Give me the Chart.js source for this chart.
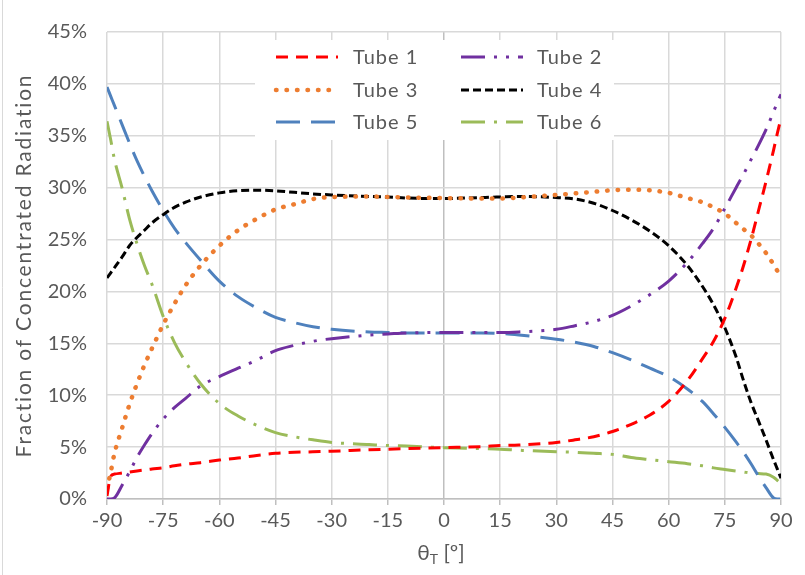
<!DOCTYPE html>
<html>
<head>
<meta charset="utf-8">
<script src="https://cdn.jsdelivr.net/npm/chart.js@4.4.1/dist/chart.umd.min.js"></script>
<style>
  html, body { margin: 0; padding: 0; background: #fff; }
  #wrap { width: 805px; height: 575px; }
</style>
</head>
<body>
<div id="wrap"><canvas id="fracChart" width="805" height="575"></canvas></div>
<script>
// incidence angle (deg) and fraction of radiation (%) per tube
const angles = [-90, -89, -88, -86, -84, -82, -80, -78, -75, -72,
                -69, -65, -60, -55, -50, -45, -40, -35, -30, -20,
                -15, -10, 0, 10, 15, 20, 30, 35, 40, 45,
                50, 55, 60, 65, 69, 72, 75, 78, 80, 82,
                84, 86, 88, 89, 90];

const tube1 = [0.3, 2.2, 2.4, 2.5, 2.6, 2.7, 2.8, 2.9, 3.0, 3.2,
               3.35, 3.5, 3.75, 3.95, 4.2, 4.4, 4.5, 4.55, 4.6, 4.75,
               4.8, 4.85, 4.95, 5.05, 5.15, 5.2, 5.45, 5.7, 6.0, 6.5,
               7.2, 8.1, 9.4, 11.4, 13.5, 15.2, 17.4, 20.3, 22.5, 25.0,
               27.8, 30.6, 33.6, 35.2, 36.7];
const tube2 = [0, 0, 0.1, 1.3, 2.6, 4.0, 5.2, 6.3, 7.7, 8.8,
               9.7, 10.9, 11.8, 12.6, 13.4, 14.3, 14.8, 15.2, 15.45, 15.8,
               15.9, 16.0, 16.05, 16.05, 16.05, 16.1, 16.35, 16.7, 17.1, 17.7,
               18.6, 19.7, 21.0, 22.8, 24.6, 26.1, 28.0, 30.0, 31.3, 32.7,
               34.1, 35.6, 37.3, 38.2, 39.0];
const tube3 = [1.0, 2.6, 4.4, 6.8, 9.1, 11.1, 12.9, 14.5, 16.8, 18.8,
               20.6, 22.5, 24.4, 25.9, 27.0, 27.9, 28.4, 28.9, 29.1, 29.15,
               29.1, 29.05, 29.0, 28.95, 28.95, 29.05, 29.3, 29.45, 29.6, 29.75,
               29.8, 29.75, 29.5, 29.0, 28.6, 28.1, 27.5, 26.6, 26.0, 25.4,
               24.6, 23.7, 22.6, 22.0, 21.5];
const tube4 = [21.3, 21.8, 22.3, 23.3, 24.4, 25.2, 25.9, 26.6, 27.4, 28.1,
               28.6, 29.1, 29.5, 29.7, 29.75, 29.7, 29.55, 29.4, 29.3, 29.15,
               29.1, 29.0, 28.95, 29.05, 29.1, 29.15, 29.05, 28.9, 28.5, 27.8,
               26.9, 25.8, 24.4, 22.5, 20.5, 18.7, 16.5, 13.7, 11.4, 9.3,
               7.5, 5.7, 3.8, 2.9, 2.0];
const tube5 = [39.7, 38.8, 37.9, 36.1, 34.3, 32.6, 31.1, 29.7, 27.8, 26.1,
               24.7, 23.0, 21.0, 19.5, 18.4, 17.5, 17.0, 16.6, 16.35, 16.1,
               16.05, 16.0, 16.0, 16.0, 15.95, 15.8, 15.4, 15.1, 14.7, 14.1,
               13.4, 12.6, 11.8, 10.6, 9.4, 8.2, 6.9, 5.5, 4.5, 3.4,
               2.2, 1.1, 0.1, 0, 0];
const tube6 = [36.4, 34.6, 32.7, 30.0, 27.0, 24.6, 22.5, 20.7, 17.6, 15.1,
               13.2, 11.1, 9.2, 8.0, 7.1, 6.4, 6.0, 5.7, 5.45, 5.25,
               5.15, 5.1, 4.95, 4.85, 4.8, 4.7, 4.55, 4.5, 4.4, 4.3,
               4.0, 3.8, 3.6, 3.4, 3.2, 3.0, 2.85, 2.7, 2.6, 2.5,
               2.45, 2.4, 2.1, 1.8, 1.5];

const seriesNames = ['Tube 1', 'Tube 2', 'Tube 3', 'Tube 4', 'Tube 5', 'Tube 6'];
const xTitle = ['θ', 'T', ' [º]'];
const yTitle = 'Fraction of Concentrated Radiation';

const FONT = 'Lato, "Open Sans", sans-serif';
const TEXT = '#595959';

function pts(vals) {
    return angles.map((a, i) => ({ x: a, y: vals[i] }));
}

const styles = [
    { color: '#FF0000', width: 3, dash: [12, 8], cap: 'butt' },
    { color: '#7030A0', width: 3, dash: [24, 9, 3, 9, 3, 9], cap: 'butt' },
    { color: '#ED7D31', width: 4.5, dash: [0.5, 10], cap: 'round' },
    { color: '#000000', width: 3, dash: [8, 4], cap: 'butt' },
    { color: '#4F81BD', width: 3, dash: [24, 11], cap: 'butt' },
    { color: '#9BBB59', width: 3, dash: [24, 9, 3, 9], cap: 'butt' }
];

const allSeries = [tube1, tube2, tube3, tube4, tube5, tube6];

const datasets = allSeries.map((vals, i) => ({
    label: seriesNames[i],
    data: pts(vals),
    borderColor: styles[i].color,
    backgroundColor: styles[i].color,
    borderWidth: styles[i].width,
    borderDash: styles[i].dash,
    borderCapStyle: styles[i].cap,
    pointRadius: 0,
    fill: false,
    tension: 0.4,
    cubicInterpolationMode: 'monotone'
}));

// legend inside the plot (two columns) plus axis titles
const innerLegend = {
    id: 'innerLegend',
    beforeDatasetsDraw(chart) {
        const ctx = chart.ctx;
        ctx.save();
        ctx.fillStyle = '#ffffff';
        ctx.fillRect(255, 40, 359, 100);
        const cols = [{ lx: 276, tx: 353 }, { lx: 461, tx: 537 }];
        const rows = [57, 90, 122];
        chart.data.datasets.forEach((ds, i) => {
            const c = cols[i % 2];
            const y = rows[Math.floor(i / 2)];
            ctx.beginPath();
            ctx.strokeStyle = ds.borderColor;
            ctx.lineWidth = ds.borderWidth;
            ctx.lineCap = ds.borderCapStyle;
            ctx.setLineDash(ds.borderDash);
            ctx.moveTo(c.lx, y);
            ctx.lineTo(c.lx + 62, y);
            ctx.stroke();
            ctx.setLineDash([]);
            ctx.fillStyle = TEXT;
            ctx.font = '20px ' + FONT;
            ctx.letterSpacing = '1px';
            ctx.textBaseline = 'middle';
            ctx.fillText(ds.label, c.tx, y + 1);
            ctx.letterSpacing = '0px';
        });
        ctx.restore();
    },
    afterDraw(chart) {
        const ctx = chart.ctx;
        const area = chart.chartArea;
        ctx.save();
        ctx.fillStyle = TEXT;

        // y axis title
        ctx.save();
        ctx.translate(24, (area.top + area.bottom) / 2);
        ctx.rotate(-Math.PI / 2);
        ctx.font = '21px ' + FONT;
        ctx.letterSpacing = '1.8px';
        ctx.textAlign = 'center';
        ctx.textBaseline = 'middle';
        ctx.fillText(yTitle, 0, 0);
        ctx.restore();

        // x axis title with subscript
        ctx.textBaseline = 'alphabetic';
        ctx.textAlign = 'left';
        const big = '21px ' + FONT;
        const small = '14px ' + FONT;
        ctx.font = big;
        const w0 = ctx.measureText(xTitle[0]).width;
        const w2 = ctx.measureText(xTitle[2]).width;
        ctx.font = small;
        const w1 = ctx.measureText(xTitle[1]).width;
        let x = 441 - (w0 + w1 + w2) / 2;
        const base = 560;
        ctx.font = big;
        ctx.fillText(xTitle[0], x, base);
        x += w0;
        ctx.font = small;
        ctx.fillText(xTitle[1], x, base + 4);
        x += w1;
        ctx.font = big;
        ctx.fillText(xTitle[2], x, base);

        // chart frame on the left
        ctx.strokeStyle = '#D9D9D9';
        ctx.lineWidth = 1;
        ctx.beginPath();
        ctx.moveTo(2.5, 0);
        ctx.lineTo(2.5, 575);
        ctx.stroke();
        ctx.restore();
    }
};

new Chart(document.getElementById('fracChart'), {
    type: 'line',
    data: { datasets: datasets },
    plugins: [innerLegend],
    options: {
        responsive: false,
        animation: false,
        devicePixelRatio: 1,
        layout: { padding: { left: 0, top: 30, right: 24, bottom: 0 } },
        plugins: {
            legend: { display: false },
            tooltip: { enabled: false }
        },
        scales: {
            x: {
                type: 'linear',
                min: -90,
                max: 90,
                afterFit(scale) { scale.height = 76; },
                ticks: {
                    stepSize: 15,
                    color: TEXT,
                    font: { family: FONT, size: 20 },
                    padding: 4,
                    maxRotation: 0
                },
                grid: {
                    color: (c) => (c.tick && c.tick.value === 0) ? '#BFBFBF' : '#D9D9D9',
                    lineWidth: 1.5,
                    drawTicks: true,
                    tickLength: 6,
                    tickColor: '#BFBFBF'
                },
                border: { display: true, color: '#BFBFBF', width: 1.5 }
            },
            y: {
                min: 0,
                max: 45,
                afterFit(scale) { scale.width = 107; },
                ticks: {
                    stepSize: 5,
                    color: TEXT,
                    font: { family: FONT, size: 20 },
                    padding: 20,
                    callback: (v) => v + '%'
                },
                grid: {
                    color: '#D9D9D9',
                    lineWidth: 1.5,
                    drawTicks: false
                },
                border: { display: false }
            }
        }
    }
});
</script>
</body>
</html>
